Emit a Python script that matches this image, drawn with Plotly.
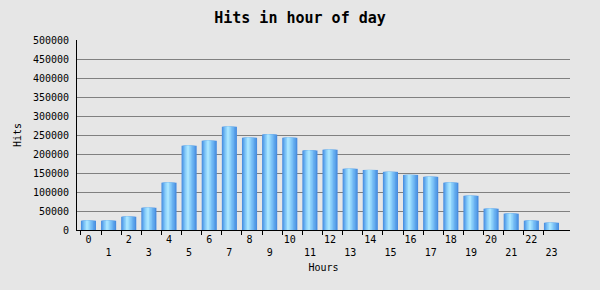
import plotly.graph_objects as go

hours = list(range(24))
hits = [24500, 24500, 35000, 58500, 124500, 222000, 235000, 272000, 243000, 251000,
        243000, 209000, 211000, 161000, 158000, 153000, 145000, 140000, 124500, 90000,
        56000, 43000, 24500, 19000]
hour_labels = [str(h) if h % 2 == 0 else "<br>" + str(h) for h in hours]
y_ticks = list(range(0, 500001, 50000))

# gradient layers: (width, offset, color)
layers = [
    (0.75, -0.375, "#4a8ee0"),
    (0.64, -0.335, "#58a0e8"),
    (0.52, -0.29, "#68b0f0"),
    (0.40, -0.245, "#7ac0f6"),
    (0.28, -0.195, "#8cd0fa"),
    (0.16, -0.14, "#9cdcfd"),
    (0.06, -0.09, "#a8e4ff"),
]

fig = go.Figure()
for w, off, col in layers:
    fig.add_trace(go.Bar(x=hours, y=hits, width=w, offset=off,
                         marker=dict(color=col, line=dict(width=0)),
                         hoverinfo="skip", showlegend=False))

# invisible trace on second x axis to carry the tick marks
fig.add_trace(go.Scatter(x=[hours[0], hours[-1]], y=[0, 0], xaxis="x2", mode="none",
                         showlegend=False, hoverinfo="skip"))

mono = "DejaVu Sans Mono"
xr = [-0.57, 23.92]
fig.update_layout(
    width=600, height=290,
    margin=dict(l=77, r=30, t=40, b=60),
    paper_bgcolor="#e6e6e6", plot_bgcolor="#e6e6e6",
    barmode="overlay",
    font=dict(family=mono, size=10, color="#000000"),
    title=dict(text="<b>Hits in hour of day</b>", x=0.5, xanchor="center",
               y=1 - 18 / 290, yanchor="middle", font=dict(family=mono, size=15)),
    xaxis=dict(range=xr, tickvals=hours, ticktext=hour_labels, ticks="",
               showline=True, linecolor="#000000", linewidth=1, showgrid=False,
               zeroline=False, title=dict(text="Hours", standoff=6, font=dict(size=10))),
    xaxis2=dict(range=xr, overlaying="x", anchor="y", side="bottom",
                tickvals=[h - 0.375 for h in hours], ticks="outside", ticklen=4,
                tickcolor="#000000", showticklabels=False, showline=False,
                showgrid=False, zeroline=False),
    yaxis=dict(range=[0, 500000], tickvals=y_ticks, ticktext=[str(v) for v in y_ticks],
               showgrid=True, gridcolor="#808080", gridwidth=1, zeroline=False,
               showline=True, linecolor="#000000", linewidth=1, ticks="",
               ticklabelstandoff=5,
               title=dict(text="Hits", standoff=9, font=dict(size=10))),
)

fig.write_html("out.html")
